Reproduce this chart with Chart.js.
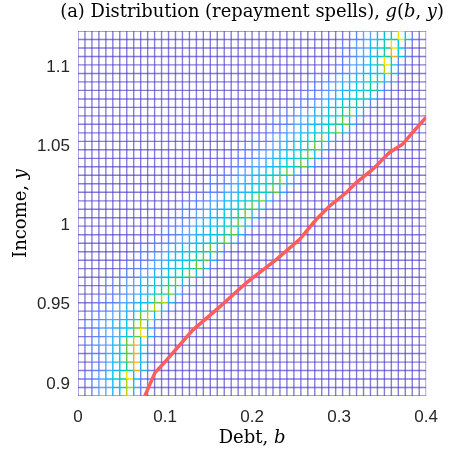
<!DOCTYPE html>
<html>
<head>
<meta charset="utf-8">
<script src="https://cdn.jsdelivr.net/npm/chart.js@4.4.1/dist/chart.umd.min.js"></script>
<style>
  html, body { margin: 0; padding: 0; background: #fff; }
  #wrap { width: 449px; height: 450px; }
</style>
</head>
<body>
<div id="wrap"><canvas id="mesh" width="449" height="450"></canvas></div>
<script>
// debt grid (mesh columns)
const debtGrid = [0, 0.008, 0.016, 0.024, 0.032, 0.04, 0.048, 0.056, 0.064, 0.072,
  0.08, 0.088, 0.096, 0.104, 0.112, 0.12, 0.128, 0.136, 0.144, 0.152,
  0.16, 0.168, 0.176, 0.184, 0.192, 0.2, 0.208, 0.216, 0.224, 0.232,
  0.24, 0.248, 0.256, 0.264, 0.272, 0.28, 0.288, 0.296, 0.304, 0.312,
  0.32, 0.328, 0.336, 0.344, 0.352, 0.36, 0.368, 0.376, 0.384, 0.392, 0.4];

// income grid (mesh rows)
const incomeGrid = [0.8924, 0.8978, 0.9031, 0.9085, 0.9138, 0.9192, 0.9245, 0.9299, 0.9353, 0.9406,
  0.946, 0.9513, 0.9567, 0.9621, 0.9674, 0.9728, 0.9781, 0.9835, 0.9888, 0.9942,
  0.9996, 1.0049, 1.0103, 1.0156, 1.021, 1.0264, 1.0317, 1.0371, 1.0424, 1.0478,
  1.0531, 1.0585, 1.0639, 1.0692, 1.0746, 1.0799, 1.0853, 1.0907, 1.096, 1.1014,
  1.1067, 1.1121, 1.1174, 1.1228];

// mass of g(b,y) per income row: [first non-empty column, levels 0-9 from there on]
const ridgeRows = [
  [2, '12234731'], [2, '12234731'], [1, '112345831'], [2, '112345931'],
  [2, '112346931'], [2, '112346931'], [1, '1122346931'], [2, '1122346831'],
  [1, '11223346731'], [2, '11223346731'], [2, '111223346731'], [3, '111223346731'],
  [4, '111223345631'], [4, '1112233445631'], [6, '1112233445631'], [7, '1112233445631'],
  [8, '1112233445631'], [9, '1112233445631'], [11, '1112233445631'], [12, '1112233445631'],
  [13, '1112233445631'], [14, '1112233445631'], [15, '1112233445631'], [16, '1112233445631'],
  [18, '1112233445631'], [19, '1112233445631'], [20, '1112233445631'], [22, '1112233445631'],
  [23, '1112233445631'], [24, '1112233445631'], [25, '1112233445631'], [27, '1112233445631'],
  [28, '1112233445631'], [29, '1112233445631'], [31, '111223344531'], [32, '111223344531'],
  [33, '111223344531'], [34, '111223344531'], [37, '1122334741'], [37, '1122345841'],
  [38, '1122345941'], [38, '1122345841'], [39, '1122345841'], [39, '1122345831']
];

// default threshold (red line)
const thresholdDebt = [0.0768, 0.0883, 0.102, 0.1318, 0.1628, 0.1937, 0.2277, 0.2544, 0.2736,
  0.2888, 0.308, 0.3194, 0.3385, 0.3576, 0.3728, 0.3843, 0.3997];
const thresholdIncome = [0.8924, 0.907, 0.9152, 0.934, 0.9487, 0.964, 0.9785, 0.9911, 1.0038,
  1.0122, 1.0207, 1.027, 1.0354, 1.046, 1.0513, 1.0587, 1.0682];

const xTicks = [0, 0.1, 0.2, 0.3, 0.4];
const yTicks = [0.9, 0.95, 1, 1.05, 1.1];

// colour per level (parula-like)
const levelColors = [
  'rgba(68,50,200,0.64)',
  'rgba(80,110,250,0.85)',
  'rgba(70,150,255,0.85)',
  'rgb(30,180,250)',
  'rgb(0,200,220)',
  'rgb(20,200,160)',
  'rgb(100,200,60)',
  'rgb(180,210,20)',
  'rgb(245,225,0)',
  'rgb(255,170,30)'
];

// level matrix [row][col]
const levels = incomeGrid.map((_, j) => {
  const row = debtGrid.map(() => 0);
  const [start, str] = ridgeRows[j];
  for (let k = 0; k < str.length; k++) row[start + k] = +str[k];
  return row;
});

const datasets = [];

// red line first, drawn on top
datasets.push({
  data: thresholdDebt.map((b, i) => ({ x: b, y: thresholdIncome[i] })),
  showLine: true,
  borderColor: 'rgb(255,92,92)',
  borderWidth: 3.5,
  pointRadius: 0,
  order: -1
});

// vertical mesh lines
debtGrid.forEach((b, i) => {
  const lv = levels.map(r => r[i]);
  datasets.push({
    data: incomeGrid.map(y => ({ x: b, y })),
    showLine: true,
    borderWidth: 1.4,
    pointRadius: 0,
    borderColor: levelColors[0],
    segment: { borderColor: ctx => levelColors[lv[ctx.p0DataIndex]] }
  });
});

// horizontal mesh lines
incomeGrid.forEach((y, j) => {
  const lv = levels[j];
  datasets.push({
    data: debtGrid.map(b => ({ x: b, y })),
    showLine: true,
    borderWidth: 1.4,
    pointRadius: 0,
    borderColor: levelColors[0],
    segment: { borderColor: ctx => levelColors[lv[ctx.p0DataIndex]] }
  });
});

const serif = '"DejaVu Serif", serif';

// draws a sequence of [text, italic] pieces centred at x, scaled to fit a width if given
function drawPieces(ctx, pieces, size, x, y, fitWidth) {
  const fontFor = (p, s) => (p[1] ? 'italic ' : '') + s + 'px ' + serif;
  const widthAt = s => pieces.reduce((w, p) => { ctx.font = fontFor(p, s); return w + ctx.measureText(p[0]).width; }, 0);
  if (fitWidth) size = size * fitWidth / widthAt(size);
  let cx = x - widthAt(size) / 2;
  pieces.forEach(p => {
    ctx.font = fontFor(p, size);
    ctx.fillText(p[0], cx, y);
    cx += ctx.measureText(p[0]).width;
  });
}

const labelsPlugin = {
  id: 'labels',
  afterDraw(chart) {
    const { ctx, chartArea } = chart;
    const mid = (chartArea.left + chartArea.right) / 2;
    ctx.save();
    ctx.fillStyle = '#000';
    ctx.textBaseline = 'alphabetic';
    ctx.textAlign = 'left';
    drawPieces(ctx, [['(a) Distribution (repayment spells), ', false], ['g', true], ['(', false],
      ['b', true], [', ', false], ['y', true], [')', false]], 18, mid, 17, 384);
    drawPieces(ctx, [['Debt, ', false], ['b', true]], 18, mid, 443);
    ctx.translate(26, (chartArea.top + chartArea.bottom) / 2);
    ctx.rotate(-Math.PI / 2);
    drawPieces(ctx, [['Income, ', false], ['y', true]], 18, 0, 0);
    ctx.restore();
  }
};

const tickFont = { family: '"Liberation Sans", Arial, sans-serif', size: 17 };

new Chart(document.getElementById('mesh'), {
  type: 'scatter',
  data: { datasets },
  options: {
    responsive: false,
    animation: false,
    events: [],
    layout: { padding: { top: 31, right: 22, left: 0, bottom: 0 } },
    plugins: { legend: { display: false }, tooltip: { enabled: false } },
    scales: {
      x: {
        type: 'linear', min: 0, max: 0.4,
        grid: { display: false, drawTicks: false },
        border: { display: false },
        afterBuildTicks: s => { s.ticks = xTicks.map(v => ({ value: v })); },
        afterFit: s => { s.height = 54; },
        ticks: { font: tickFont, color: '#262626', padding: 11, maxRotation: 0, callback: v => String(v) }
      },
      y: {
        type: 'linear', min: 0.8924, max: 1.1228,
        grid: { display: false, drawTicks: false },
        border: { display: false },
        afterBuildTicks: s => { s.ticks = yTicks.map(v => ({ value: v })); },
        afterFit: s => { s.width = 78; },
        ticks: { font: tickFont, color: '#262626', padding: 8, callback: v => String(v) }
      }
    }
  },
  plugins: [labelsPlugin]
});
</script>
</body>
</html>
